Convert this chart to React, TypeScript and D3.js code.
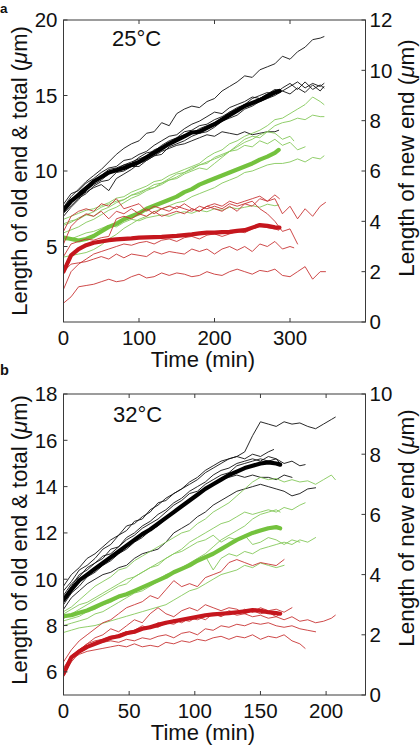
import React from "react";
import * as d3 from "d3";

const FONT = '"Liberation Sans", Arial, Helvetica, sans-serif';

// ---------------- Panel a : 25 °C (values every 10 min, last point at line end) ----------------
const aStep = 10;
const aXTicks = [0, 100, 200, 300];
const aLeftTicks = [5, 10, 15, 20];
const aRightTicks = [0, 2, 4, 6, 8, 10, 12];

// total length (left axis, µm)
const aBlackMean = [7.4, 8.0, 8.4, 8.85, 9.3, 9.6, 9.9, 10.05, 10.2, 10.4, 10.6, 10.9, 11.2, 11.5, 11.8, 12.05, 12.3, 12.55, 12.6, 12.85, 13.1, 13.4, 13.7, 14.0, 14.3, 14.5, 14.7, 14.95, 15.2, 15.3];
const aBlackMeanEnd = 286;
const aBlackEnds = [345, 345, 345, 285, 285, 345];
const aBlack = [
  [7.6, 8.3, 8.8, 9.3, 9.7, 10.1, 10.6, 11.1, 11.5, 11.8, 12.0, 12.5, 12.6, 13.2, 13.0, 13.8, 14.1, 14.3, 14.2, 14.6, 14.8, 15.3, 15.6, 15.9, 16.3, 16.2, 16.7, 16.9, 17.1, 17.6, 17.4, 17.9, 18.2, 18.7, 18.8, 18.9],
  [7.8, 8.5, 8.7, 9.2, 9.5, 9.9, 10.2, 10.3, 10.7, 10.8, 11.1, 11.3, 11.7, 12.0, 12.3, 12.4, 12.8, 13.1, 13.3, 13.6, 13.9, 13.8, 14.2, 14.4, 14.6, 14.9, 14.8, 15.1, 15.4, 15.3, 15.6, 15.9, 15.5, 15.8, 15.6, 15.8],
  [7.2, 7.7, 8.2, 8.5, 9.0, 9.3, 9.4, 9.9, 10.0, 10.3, 10.3, 10.7, 11.0, 11.1, 11.6, 11.8, 12.0, 12.3, 12.5, 12.6, 12.9, 13.3, 13.5, 13.7, 14.1, 14.3, 14.6, 14.8, 15.0, 15.3, 15.1, 15.5, 15.2, 15.7, 15.3, 15.6],
  [7.3, 7.9, 8.3, 8.6, 8.9, 9.1, 8.7, 9.5, 9.8, 10.1, 10.5, 10.7, 11.0, 11.3, 11.5, 11.7, 11.8, 12.0, 12.2, 12.4, 12.3, 12.6, 12.5, 12.4, 12.6, 12.4, 12.5, 12.6, 12.6, 12.7],
  [7.5, 8.1, 8.6, 9.0, 9.2, 9.7, 10.1, 10.2, 10.4, 10.6, 10.8, 11.0, 11.4, 11.6, 11.9, 12.2, 12.4, 12.5, 12.8, 13.0, 13.2, 13.5, 13.9, 14.1, 14.4, 14.5, 14.8, 15.1, 15.3, 15.4],
  [7.0, 7.6, 8.1, 8.7, 9.1, 9.4, 9.8, 10.1, 10.4, 10.5, 10.9, 11.2, 11.3, 11.7, 12.0, 12.2, 12.6, 12.7, 13.0, 13.1, 13.4, 13.6, 13.9, 14.2, 14.4, 14.8, 15.0, 15.2, 15.1, 15.5, 15.8, 15.4, 15.9, 15.4, 15.7, 15.5],
];

// old end (left axis, µm)
const aGreenMean = [5.6, 5.5, 5.4, 5.5, 5.7, 6.0, 6.3, 6.5, 6.8, 7.0, 7.2, 7.5, 7.7, 7.9, 8.1, 8.3, 8.6, 8.8, 9.1, 9.3, 9.5, 9.7, 9.9, 10.1, 10.3, 10.5, 10.75, 10.95, 11.2, 11.4];
const aGreenMeanEnd = 285;
const aGreenEnds = [345, 345, 345, 320, 285, 305];
const aGreen = [
  [6.8, 7.0, 7.2, 7.4, 7.5, 7.7, 7.9, 8.2, 8.3, 8.6, 8.8, 9.0, 9.3, 9.4, 9.7, 9.9, 10.1, 10.3, 10.5, 10.9, 11.2, 11.4, 11.8, 12.0, 12.3, 12.5, 12.7, 13.0, 13.4, 13.5, 13.8, 14.1, 14.4, 14.9, 14.6, 14.4],
  [6.4, 6.6, 6.9, 7.1, 7.0, 7.4, 7.6, 7.9, 8.1, 8.4, 8.5, 8.8, 9.1, 9.2, 9.5, 9.8, 9.9, 10.2, 10.4, 10.5, 10.9, 11.1, 11.3, 11.6, 11.9, 12.1, 12.4, 12.6, 13.0, 13.2, 13.3, 13.5, 13.4, 13.7, 13.6, 13.6],
  [4.3, 4.4, 4.5, 4.6, 4.8, 5.1, 5.5, 5.8, 6.2, 6.5, 6.8, 7.0, 7.3, 7.5, 7.7, 7.9, 8.0, 8.3, 8.5, 8.7, 8.9, 9.2, 9.4, 9.6, 9.9, 10.0, 10.2, 10.4, 10.5, 10.5, 10.6, 10.8, 10.6, 10.9, 10.8, 11.0],
  [5.9, 6.1, 6.3, 6.6, 6.8, 7.1, 7.4, 7.6, 7.9, 8.2, 8.4, 8.7, 8.9, 9.1, 9.4, 9.6, 9.9, 10.1, 10.4, 10.6, 10.8, 11.0, 11.3, 11.4, 11.7, 11.6, 12.0, 11.8, 12.1, 11.7, 11.9, 11.4, 11.6],
  [5.4, 5.5, 5.7, 5.9, 6.0, 6.2, 6.4, 6.3, 6.6, 6.8, 6.7, 6.9, 7.0, 7.1, 7.0, 7.2, 7.3, 7.2, 7.4, 7.3, 7.5, 7.4, 7.6, 7.5, 7.6, 7.7, 7.6, 7.8, 7.7, 7.75],
  [6.5, 6.7, 6.8, 7.1, 7.3, 7.6, 7.8, 8.0, 8.1, 8.4, 8.6, 8.8, 8.9, 9.2, 9.4, 9.5, 9.8, 10.0, 10.2, 10.1, 10.5, 10.9, 11.3, 11.7, 12.1, 12.3, 12.2, 12.6, 12.5, 12.1, 12.3, 12.0],
];

// new end (right axis, µm)
const aRedMean = [2.0, 2.65, 2.9, 3.05, 3.15, 3.2, 3.25, 3.28, 3.3, 3.32, 3.35, 3.36, 3.37, 3.38, 3.4, 3.42, 3.45, 3.48, 3.52, 3.55, 3.55, 3.57, 3.58, 3.62, 3.65, 3.75, 3.85, 3.82, 3.76, 3.75];
const aRedMeanEnd = 286;
const aRedEnds = [286, 347, 310, 305, 347, 285];
const aRed = [
  [3.6, 4.2, 4.4, 4.5, 4.4, 4.7, 4.6, 4.9, 4.5, 4.6, 4.7, 4.4, 4.6, 4.5, 4.6, 4.5, 4.7, 4.5, 4.4, 4.6, 4.7, 4.6, 4.8, 4.7, 4.8, 4.9, 5.0, 4.8, 5.05, 4.9],
  [3.1, 3.8, 4.1, 4.3, 4.2, 4.4, 4.1, 4.4, 4.3, 4.5, 4.3, 4.5, 4.3, 4.5, 4.4, 4.6, 4.5, 4.4, 4.6, 4.5, 4.6, 4.5, 4.7, 4.6, 4.7, 4.6, 4.9, 4.8, 4.9, 4.3, 4.6, 4.1, 4.5, 4.2, 4.6, 4.75],
  [2.6, 3.1, 3.2, 3.3, 3.25, 3.35, 3.4, 4.1, 4.2, 4.1, 4.3, 4.2, 4.4, 4.2, 4.3, 4.4, 4.3, 4.5, 4.4, 4.6, 4.5, 4.4, 4.6, 4.4, 4.7, 4.8, 4.5, 4.3, 4.0, 3.6, 3.7, 3.1],
  [2.0, 2.3, 2.35, 2.4, 2.5, 2.6, 2.5, 2.7, 2.55, 2.7, 2.65, 2.6, 2.8, 2.7, 2.8, 2.75, 2.7, 2.9, 2.8, 2.9, 2.7, 2.9, 3.0, 2.85, 3.0, 2.8, 3.1, 3.0, 3.2, 2.9, 3.0, 2.95],
  [0.75, 1.0, 1.4, 1.45, 1.5, 1.6, 1.7, 1.6, 1.65, 1.8, 1.9, 1.75, 1.8, 1.95, 1.85, 1.95, 1.9, 1.8, 1.85, 2.0, 1.9, 1.85, 2.0, 2.1, 2.0, 1.9, 2.05, 2.0, 2.1, 1.85, 1.8, 2.0, 2.2, 1.7, 2.0, 2.0],
  [1.3, 2.0, 2.3, 2.5, 2.7, 2.8, 2.9, 3.0, 3.1, 3.05, 3.15, 3.2, 3.1, 3.25, 3.3, 3.2, 3.35, 3.4, 3.3, 3.45, 3.5, 3.4, 3.5, 3.6, 3.55, 3.7, 3.8, 3.75, 3.7, 3.65],
];

// ---------------- Panel b : 32 °C (values every 6 min, last point at line end) ----------------
const bStep = 6;
const bXTicks = [0, 50, 100, 150, 200];
const bLeftTicks = [6, 8, 10, 12, 14, 16, 18];
const bRightTicks = [0, 2, 4, 6, 8, 10];

const bBlackMean = [9.1, 9.55, 9.95, 10.2, 10.45, 10.7, 10.95, 11.2, 11.45, 11.7, 11.95, 12.15, 12.4, 12.65, 12.9, 13.15, 13.4, 13.65, 13.9, 14.1, 14.3, 14.5, 14.65, 14.8, 14.9, 15.0, 15.05, 15.0, 14.95];
const bBlackMeanEnd = 165;
const bBlackEnds = [207, 160, 184, 174, 192, 165];
const bBlack = [
  [9.5, 9.9, 10.4, 10.6, 10.9, 11.3, 11.5, 11.9, 12.1, 12.5, 12.6, 13.0, 13.2, 13.5, 13.7, 13.9, 14.2, 14.4, 14.7, 14.9, 15.1, 15.2, 15.3, 15.5, 16.2, 16.8, 16.7, 16.6, 16.8, 16.7, 16.75, 16.6, 16.5, 16.7, 16.9, 17.0],
  [9.7, 10.2, 10.5, 10.9, 11.1, 11.4, 11.7, 11.9, 12.3, 12.4, 12.7, 12.9, 13.3, 13.4, 13.7, 13.9, 14.1, 14.3, 14.6, 14.8, 15.0, 15.2, 15.3, 15.2, 15.4, 15.3, 15.5, 15.6],
  [9.3, 9.8, 10.1, 10.5, 10.7, 10.9, 11.3, 11.4, 11.8, 12.0, 12.3, 12.5, 12.8, 13.0, 13.3, 13.5, 13.8, 14.0, 14.2, 14.5, 14.7, 14.8, 15.0, 15.1, 15.2, 15.1, 15.3, 15.2, 15.0, 15.1, 14.9, 14.95],
  [8.9, 9.4, 9.7, 10.1, 10.3, 10.6, 10.8, 11.1, 11.3, 11.6, 11.8, 12.1, 12.3, 12.6, 12.9, 13.1, 13.4, 13.6, 13.9, 14.1, 14.3, 14.4, 14.5, 14.4, 14.5, 14.4, 14.4, 14.3, 14.5, 14.4],
  [8.7, 9.2, 9.5, 9.8, 10.0, 10.2, 10.3, 10.5, 10.6, 10.9, 11.1, 11.2, 11.3, 11.6, 12.0, 12.2, 12.4, 12.7, 12.9, 13.2, 13.4, 13.6, 13.8, 13.9, 14.0, 14.1, 14.0, 13.9, 13.8, 13.6, 13.7, 13.9, 13.95],
  [9.2, 9.7, 10.2, 10.4, 10.7, 11.0, 11.1, 11.4, 11.7, 11.9, 12.2, 12.4, 12.6, 12.9, 13.2, 13.4, 13.7, 13.8, 14.1, 14.3, 14.5, 14.6, 14.9, 15.0, 15.1, 15.2, 15.1, 15.2, 15.0],
];

const bGreenMean = [8.4, 8.45, 8.55, 8.65, 8.8, 8.95, 9.1, 9.25, 9.35, 9.5, 9.65, 9.8, 9.95, 10.1, 10.3, 10.45, 10.6, 10.8, 10.95, 11.1, 11.3, 11.5, 11.7, 11.85, 12.0, 12.1, 12.2, 12.25, 12.2];
const bGreenMeanEnd = 165;
const bGreenEnds = [207, 184, 192, 168, 165, 180];
const bGreen = [
  [8.6, 8.8, 9.1, 9.4, 9.7, 9.9, 10.1, 10.4, 10.5, 10.8, 11.0, 11.2, 11.4, 11.6, 11.8, 12.0, 12.1, 12.4, 12.6, 12.9, 13.1, 13.3, 13.6, 13.9, 14.2, 14.4, 14.3, 14.35, 14.2, 14.3, 14.2, 14.25, 14.1, 14.3, 14.5, 14.3],
  [8.3, 8.5, 8.7, 8.9, 9.1, 9.3, 9.5, 9.7, 9.8, 10.1, 10.3, 10.5, 10.7, 10.9, 11.1, 11.3, 11.6, 11.8, 12.0, 12.2, 12.4, 12.5, 12.7, 12.9, 12.8, 12.9, 13.0, 12.9, 13.1, 13.0, 13.2, 13.3],
  [8.0, 8.1, 8.2, 8.3, 8.5, 8.6, 8.8, 9.0, 9.2, 9.4, 9.5, 9.7, 9.9, 10.1, 10.3, 10.4, 10.6, 10.8, 11.0, 10.4, 10.9, 11.1, 11.0, 11.2, 11.1, 11.3, 11.4, 11.5, 11.6, 11.5, 11.7, 11.6, 11.8],
  [7.7, 7.8, 7.9, 7.95, 8.0, 8.1, 8.2, 8.3, 8.4, 8.5, 8.6, 8.7, 8.8, 8.9, 9.1, 9.3, 9.5, 9.6, 9.8, 10.0, 10.2, 10.3, 10.4, 10.6, 10.5, 10.7, 10.6, 10.5, 10.6],
  [8.2, 8.3, 8.4, 8.6, 8.7, 8.9, 9.0, 9.2, 9.3, 9.5, 9.6, 9.8, 10.0, 10.2, 10.3, 10.5, 10.7, 10.9, 11.1, 11.4, 11.7, 11.9, 12.1, 12.3, 12.6, 12.8, 12.9, 13.0, 12.9],
  [8.5, 8.7, 8.9, 9.0, 9.2, 9.4, 9.6, 9.8, 10.0, 10.1, 10.3, 10.5, 10.6, 10.9, 11.1, 11.2, 11.4, 11.6, 11.7, 11.9, 11.6, 11.8, 11.7, 11.9, 11.5, 11.6, 11.8, 11.7, 11.5, 11.7, 11.6],
];

const bRedMean = [0.7, 1.25, 1.45, 1.6, 1.7, 1.8, 1.9, 1.95, 2.05, 2.1, 2.2, 2.25, 2.33, 2.4, 2.45, 2.5, 2.55, 2.6, 2.65, 2.68, 2.7, 2.72, 2.75, 2.78, 2.82, 2.8, 2.75, 2.72, 2.7];
const bRedMeanEnd = 165;
const bRedEnds = [168, 207, 192, 184, 165, 174];
const bRed = [
  [1.1, 1.5, 1.8, 2.0, 2.2, 2.4, 2.5, 2.7, 2.9, 3.0, 3.1, 3.3, 3.2, 3.5, 3.8, 3.6, 3.7, 3.6, 3.9, 4.0, 4.1, 4.4, 4.5, 4.4, 4.3, 4.4, 4.35, 4.3, 4.5],
  [0.8, 1.3, 1.5, 1.7, 1.8, 1.85, 1.95, 2.0, 2.1, 2.15, 2.3, 2.2, 2.4, 2.35, 2.5, 2.4, 2.55, 2.5, 2.6, 2.7, 2.6, 2.75, 2.65, 2.7, 2.6, 2.65, 2.55, 2.6, 2.5, 2.6, 2.45, 2.5, 2.4, 2.45, 2.55, 2.65],
  [0.9, 1.3, 1.5, 1.6, 1.7, 1.75, 1.8, 1.75, 1.85, 1.8, 1.9, 1.85, 1.95, 2.0, 1.9, 2.05, 2.1, 2.0, 2.2, 2.15, 2.3, 2.25, 2.35, 2.3, 2.4, 2.35, 2.4, 2.3, 2.25, 2.3, 2.2, 2.15, 2.1],
  [0.8, 1.2, 1.35, 1.45, 1.5, 1.55, 1.6, 1.65, 1.6, 1.7, 1.6, 1.65, 1.6, 1.75, 1.7, 1.8, 1.75, 1.85, 1.8, 1.9, 1.95, 1.85, 1.95, 1.9, 2.0, 1.85, 1.95, 1.9, 2.0, 1.8, 1.7, 1.55],
  [0.6, 1.2, 1.5, 1.7, 1.9, 2.0, 2.2, 2.1, 2.3, 2.5, 2.4, 2.7, 2.9, 2.7, 2.6, 2.8, 2.9, 2.8, 3.0, 2.9, 2.8, 2.9, 2.85, 2.7, 2.8, 2.7, 2.75, 2.6, 2.7],
  [0.7, 1.1, 1.4, 1.55, 1.7, 1.8, 1.85, 2.0, 2.1, 2.05, 2.2, 2.3, 2.25, 2.4, 2.35, 2.5, 2.45, 2.6, 2.5, 2.7, 2.65, 2.8, 2.7, 2.85, 2.75, 2.9, 2.8, 2.85, 2.75, 2.9],
];

// ---------------- drawing ----------------
const COLORS = {
  blackThin: "#111111",
  blackThick: "#000000",
  greenThin: "#85c85a",
  greenThick: "#74c23e",
  redThin: "#c83434",
  redThick: "#c5161d",
};

type Pt = [number, number];
function pts(v: number[], step: number, end: number): Pt[] {
  return v.map((y, i) => [Math.min(i * step, end), y] as Pt);
}

type PanelProps = {
  id: string;
  top: number;
  bottom: number;
  left: number;
  right: number;
  xDomain: [number, number];
  leftDomain: [number, number];
  rightDomain: [number, number];
  xTicks: number[];
  leftTicks: number[];
  rightTicks: number[];
  step: number;
  temp: string;
  tempX: number;
  tempY: number;
  leftTitleY: number;
  rightTitleY: number;
  blackMean: number[];
  blackMeanEnd: number;
  black: number[][];
  blackEnds: number[];
  greenMean: number[];
  greenMeanEnd: number;
  green: number[][];
  greenEnds: number[];
  redMean: number[];
  redMeanEnd: number;
  red: number[][];
  redEnds: number[];
};

function Panel(p: PanelProps) {
  const x = d3.scaleLinear().domain(p.xDomain).range([p.left, p.right]);
  const yL = d3.scaleLinear().domain(p.leftDomain).range([p.bottom, p.top]);
  const yR = d3.scaleLinear().domain(p.rightDomain).range([p.bottom, p.top]);
  const lineL = d3.line<Pt>().x((d) => x(d[0])).y((d) => yL(d[1]));
  const lineR = d3.line<Pt>().x((d) => x(d[0])).y((d) => yR(d[1]));
  const tick = 4;
  const clip = `clip-${p.id}`;
  const axisColor = "#3a3a3a";
  const tickFont = 20.5;
  const titleFont = 22;

  return (
    <g>
      <defs>
        <clipPath id={clip}>
          <rect x={p.left} y={p.top} width={p.right - p.left} height={p.bottom - p.top} />
        </clipPath>
      </defs>
      <g clipPath={`url(#${clip})`} fill="none" strokeLinejoin="round" strokeLinecap="round">
        {p.black.map((v, i) => (
          <path key={"bk" + i} d={lineL(pts(v, p.step, p.blackEnds[i])) || ""} stroke={COLORS.blackThin} strokeWidth={0.9} />
        ))}
        <path d={lineL(pts(p.blackMean, p.step, p.blackMeanEnd)) || ""} stroke={COLORS.blackThick} strokeWidth={4.2} />
        {p.green.map((v, i) => (
          <path key={"gr" + i} d={lineL(pts(v, p.step, p.greenEnds[i])) || ""} stroke={COLORS.greenThin} strokeWidth={0.9} />
        ))}
        <path d={lineL(pts(p.greenMean, p.step, p.greenMeanEnd)) || ""} stroke={COLORS.greenThick} strokeWidth={4.2} />
        {p.red.map((v, i) => (
          <path key={"rd" + i} d={lineR(pts(v, p.step, p.redEnds[i])) || ""} stroke={COLORS.redThin} strokeWidth={0.9} />
        ))}
        <path d={lineR(pts(p.redMean, p.step, p.redMeanEnd)) || ""} stroke={COLORS.redThick} strokeWidth={4.2} />
      </g>

      {/* frame */}
      <rect x={p.left} y={p.top} width={p.right - p.left} height={p.bottom - p.top} fill="none" stroke={axisColor} strokeWidth={1} />

      {/* x ticks (bottom and top, inward) */}
      {p.xTicks.map((t) => (
        <g key={"x" + t}>
          <line x1={x(t)} x2={x(t)} y1={p.bottom} y2={p.bottom - tick} stroke={axisColor} />
          <line x1={x(t)} x2={x(t)} y1={p.top} y2={p.top + tick} stroke={axisColor} />
          <text x={x(t)} y={p.bottom + 23} textAnchor="middle" fontSize={tickFont} fontFamily={FONT} fill="#111">
            {t}
          </text>
        </g>
      ))}
      {/* left ticks */}
      {p.leftTicks.map((t) => (
        <g key={"l" + t}>
          <line x1={p.left} x2={p.left + tick} y1={yL(t)} y2={yL(t)} stroke={axisColor} />
          <text x={p.left - 6} y={yL(t)} dy="0.36em" textAnchor="end" fontSize={tickFont} fontFamily={FONT} fill="#111">
            {t}
          </text>
        </g>
      ))}
      {/* right ticks */}
      {p.rightTicks.map((t) => (
        <g key={"r" + t}>
          <line x1={p.right} x2={p.right - tick} y1={yR(t)} y2={yR(t)} stroke={axisColor} />
          <text x={p.right + 4} y={yR(t)} dy="0.36em" textAnchor="start" fontSize={tickFont} fontFamily={FONT} fill="#111">
            {t}
          </text>
        </g>
      ))}

      {/* titles */}
      <text x={203} y={p.bottom + 45} textAnchor="middle" fontSize={titleFont} fontFamily={FONT} fill="#111">
        Time (min)
      </text>
      <text transform={`translate(27,${p.leftTitleY}) rotate(-90)`} textAnchor="middle" fontSize={titleFont} fontFamily={FONT} fill="#111">
        Length of old end &amp; total (<tspan fontStyle="italic">μ</tspan>m)
      </text>
      <text transform={`translate(413.5,${p.rightTitleY}) rotate(-90)`} textAnchor="middle" fontSize={22.5} fontFamily={FONT} fill="#111">
        Length of new end (<tspan fontStyle="italic">μ</tspan>m)
      </text>
      <text x={p.tempX} y={p.tempY} fontSize={titleFont} fontFamily={FONT} fill="#111">
        {p.temp}
      </text>
    </g>
  );
}

export default function App() {
  return (
    <svg width={420} height={747} style={{ position: "absolute", left: 0, top: 0, background: "#fff" }}>
      <rect x={0} y={0} width={420} height={747} fill="#fff" />
      <text x={0} y={12.5} fontSize={13.5} fontWeight="bold" fontFamily={FONT} fill="#111">a</text>
      <text x={0} y={375} fontSize={14.5} fontWeight="bold" fontFamily={FONT} fill="#111">b</text>
      <Panel
        id="a"
        top={20}
        bottom={322}
        left={63.5}
        right={365.5}
        xDomain={[0, 400]}
        leftDomain={[0, 20]}
        rightDomain={[0, 12]}
        xTicks={aXTicks}
        leftTicks={aLeftTicks}
        rightTicks={aRightTicks}
        step={aStep}
        temp="25°C"
        tempX={112}
        tempY={46}
        leftTitleY={171}
        rightTitleY={158}
        blackMean={aBlackMean}
        blackMeanEnd={aBlackMeanEnd}
        black={aBlack}
        blackEnds={aBlackEnds}
        greenMean={aGreenMean}
        greenMeanEnd={aGreenMeanEnd}
        green={aGreen}
        greenEnds={aGreenEnds}
        redMean={aRedMean}
        redMeanEnd={aRedMeanEnd}
        red={aRed}
        redEnds={aRedEnds}
      />
      <Panel
        id="b"
        top={394}
        bottom={695}
        left={63.5}
        right={365.5}
        xDomain={[0, 230]}
        leftDomain={[5, 18]}
        rightDomain={[0, 10]}
        xTicks={bXTicks}
        leftTicks={bLeftTicks}
        rightTicks={bRightTicks}
        step={bStep}
        temp="32°C"
        tempX={113}
        tempY={422}
        leftTitleY={540}
        rightTitleY={528}
        blackMean={bBlackMean}
        blackMeanEnd={bBlackMeanEnd}
        black={bBlack}
        blackEnds={bBlackEnds}
        greenMean={bGreenMean}
        greenMeanEnd={bGreenMeanEnd}
        green={bGreen}
        greenEnds={bGreenEnds}
        redMean={bRedMean}
        redMeanEnd={bRedMeanEnd}
        red={bRed}
        redEnds={bRedEnds}
      />
    </svg>
  );
}
